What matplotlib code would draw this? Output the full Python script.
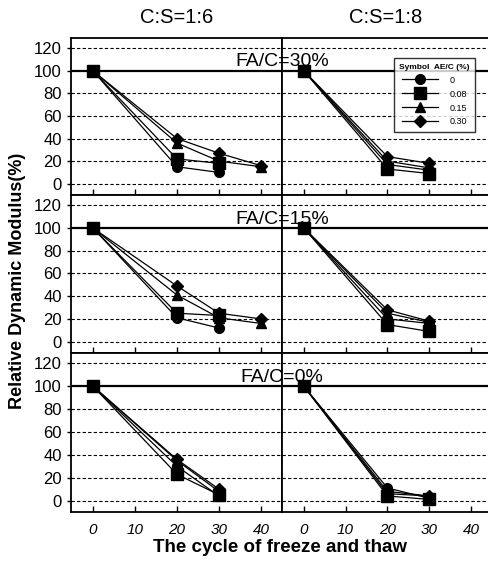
import matplotlib.pyplot as plt
import numpy as np

plt.rcParams['font.family'] = ['Liberation Sans', 'DejaVu Sans']

# cycles of freeze and thaw
cycles = [0, 20, 30, 40]
series_labels = ['0', '0.08', '0.15', '0.30']
markers = ['o', 's', '^', 'D']
msizes = [7, 8, 7, 6]
col_titles = ['C:S=1:6', 'C:S=1:8']
row_titles = ['FA/C=30%', 'FA/C=15%', 'FA/C=0%']

# relative dynamic modulus (%), None = not measured
# order per panel: AE/C 0, 0.08, 0.15, 0.30
fa30_cs16 = [[100, 15, 10, None], [100, 22, 18, None], [100, 36, 20, 15], [100, 40, 27, 16]]
fa30_cs18 = [[100, 17, 12, None], [100, 13, 9, None], [100, 20, 14, None], [100, 24, 18, None]]
fa15_cs16 = [[100, 21, 12, None], [100, 25, 23, None], [100, 41, 21, 16], [100, 49, 25, 20]]
fa15_cs18 = [[100, 20, 16, None], [100, 15, 9, None], [100, 25, 17, None], [100, 28, 18, None]]
fa0_cs16 = [[100, 30, 4, None], [100, 23, 5, None], [100, 35, 8, None], [100, 36, 10, None]]
fa0_cs18 = [[100, 11, 2, None], [100, 4, 1, None], [100, 8, 4, None], [100, 6, 4, None]]

panels = [[fa30_cs16, fa30_cs18], [fa15_cs16, fa15_cs18], [fa0_cs16, fa0_cs18]]

fig = plt.figure(figsize=(4.89, 5.62), dpi=100)

lefts = [71 / 489, 282 / 489]
widths = [211 / 489, 207 / 489]
tops = [38, 195, 353]
heights = [157, 158, 159]

for r in range(3):
    for c in range(2):
        ax = fig.add_axes([lefts[c], 1 - (tops[r] + heights[r]) / 562, widths[c], heights[r] / 562])
        data = panels[r][c]
        for i, s in enumerate(data):
            xs = [cycles[k] for k in range(len(s)) if s[k] is not None]
            ys = [v for v in s if v is not None]
            ax.plot(xs, ys, color='black', lw=0.9, marker=markers[i], ms=msizes[i],
                    mfc='black', mec='black', label=series_labels[i], zorder=3)
        ax.set_xlim(-5.2, 45 if c == 0 else 44.3)
        ax.set_ylim(-10, 129)
        for yv in [0, 20, 40, 60, 80, 120]:
            ax.axhline(yv, color='black', lw=0.8, ls=(0, (3, 2)), zorder=1)
        ax.axhline(100, color='black', lw=1.6, zorder=2)
        ax.set_xticks([0, 10, 20, 30, 40])
        ax.set_yticks([0, 20, 40, 60, 80, 100, 120])
        ax.tick_params(axis='x', direction='in', length=4, width=1)
        ax.tick_params(axis='y', direction='out', length=3, width=1, labelsize=12)
        for sp in ax.spines.values():
            sp.set_linewidth(1.3)
        if c == 1:
            ax.tick_params(axis='y', left=False, labelleft=False)
        if r < 2:
            ax.tick_params(axis='x', labelbottom=False)
        else:
            ax.tick_params(axis='x', labelsize=11, pad=8)
            for t in ax.get_xticklabels():
                t.set_fontstyle('italic')
        if r == 0:
            ax.set_title(col_titles[c], fontsize=14.5, pad=11)
        if r == 0 and c == 1:
            leg = ax.legend(title='Symbol  AE/C (%)', loc='upper right', bbox_to_anchor=(0.955, 0.9),
                            fontsize=6.5, title_fontsize=6, frameon=True, fancybox=False,
                            edgecolor='black', handlelength=4, labelspacing=0.55,
                            borderpad=0.6, markerscale=1.0, handletextpad=1.2)
            leg.get_frame().set_linewidth(1.0)
            leg.get_title().set_fontweight('bold')

fa_y = [61, 219, 378]
for r in range(3):
    fig.text(282 / 489, 1 - fa_y[r] / 562, row_titles[r], ha='center', va='center', fontsize=14)

fig.text(18 / 489, 0.5, 'Relative Dynamic Modulus(%)', rotation=90, ha='center', va='center',
         fontsize=13, fontweight='bold')
fig.text(280 / 489, 1 - 548 / 562, 'The cycle of freeze and thaw', ha='center', va='center',
         fontsize=13.5, fontweight='bold')

fig.savefig('out.png', dpi=100)
